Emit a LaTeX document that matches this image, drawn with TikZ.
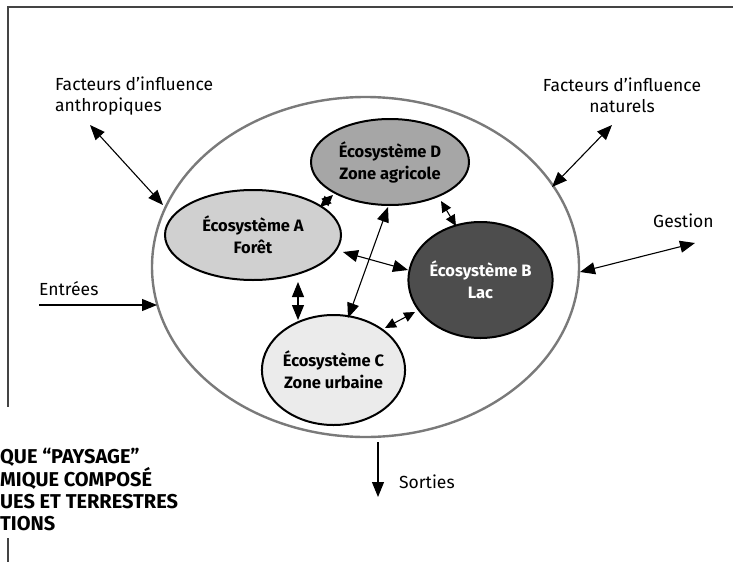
\documentclass[tikz,border=0pt]{standalone}
\usepackage{fontspec}
\setmainfont{Fira Sans}
\usetikzlibrary{arrows.meta,shapes.geometric}
\definecolor{bigring}{HTML}{7A7A7A}
\definecolor{fillD}{HTML}{A6A6A6}
\definecolor{fillA}{HTML}{D0D0D0}
\definecolor{fillB}{HTML}{4D4D4D}
\definecolor{fillC}{HTML}{EBEBEB}
\definecolor{framecol}{HTML}{444444}
\begin{document}
\begin{tikzpicture}[x=1pt,y=-1pt,
  eco/.style={ellipse,draw=black,line width=2pt,inner sep=0pt,align=center,
    font=\fontsize{16.5}{22}\selectfont\bfseries},
  lbl/.style={font=\fontsize{17.5}{21}\selectfont,inner sep=0pt},
  ttl/.style={font=\fontsize{20}{22}\selectfont\bfseries,inner sep=0pt,anchor=base west},
  dbl/.style={{Triangle[length=15pt,width=12pt]}-{Triangle[length=15pt,width=12pt]},line width=1.1pt},
  dbls/.style={{Triangle[length=11pt,width=10pt]}-{Triangle[length=11pt,width=10pt]},line width=1.1pt},
  one/.style={-{Triangle[length=15pt,width=12pt]},line width=1.1pt},
  framel/.style={draw=framecol,line width=2pt}]
\useasboundingbox (0,0) rectangle (733,562);
% frame
\draw[framel] (7,7) -- (733,7);
\draw[framel] (8,7) -- (8,407);
\draw[framel] (8,538) -- (8,562);
% big ellipse
\node[ellipse,draw=bigring,line width=2.4pt,minimum width=427pt,minimum height=340pt,inner sep=0pt] (W) at (365.5,267) {};
% ecosystems
\node[eco,fill=fillD,minimum width=158pt,minimum height=86pt] (D) at (390,162) {Écosystème D\\Zone agricole};
\node[eco,fill=fillA,minimum width=176pt,minimum height=90pt] (A) at (253,235) {Écosystème A\\Forêt};
\node[eco,fill=fillB,text=white,minimum width=143pt,minimum height=116pt] (B) at (480.5,280) {Écosystème B\\Lac};
\node[eco,fill=fillC,minimum width=127pt,minimum height=110pt] (C) at (333.5,370) {Écosystème C\\Zone urbaine};
% labels
\node[lbl,anchor=base west] (fa1) at (55,90) {Facteurs d’influence};
\node[lbl,anchor=base west] (fa2) at (55,111) {anthropiques};
\node[lbl,anchor=base] (fn1) at (622,91) {Facteurs d’influence};
\node[lbl,anchor=base] (fn2) at (622,112) {naturels};
\node[lbl,anchor=base west] (ge) at (653,227) {Gestion};
\node[lbl,anchor=base west] (en) at (39,295) {Entrées};
\node[lbl,anchor=base west] (so) at (399,488) {Sorties};
% title (cut at the left edge)
\node[ttl] (t1) at (0,463) {QUE “PAYSAGE”};
\node[ttl] (t2) at (0,486) {MIQUE COMPOSÉ};
\node[ttl] (t3) at (0,508) {UES ET TERRESTRES};
\node[ttl] (t4) at (0,530) {TIONS};
% arrow end points
\coordinate (anA) at (90,125);  \coordinate (anW) at (163,205);
\coordinate (naN) at (612,125); \coordinate (naW) at (552,187);
\coordinate (geW) at (580,272); \coordinate (geG) at (695,243);
\coordinate (enS) at (39,305);  \coordinate (enW) at (157,305);
\coordinate (soW) at (378,442); \coordinate (soS) at (378,497);
\coordinate (adA) at (320,207); \coordinate (adD) at (333,195);
\coordinate (dbD) at (441,201); \coordinate (dbB) at (456,226);
\coordinate (abA) at (343,252); \coordinate (abB) at (408,270);
\coordinate (dcD) at (388,207); \coordinate (dcC) at (348,318);
\coordinate (acA) at (298,282); \coordinate (acC) at (298,320);
\coordinate (cbC) at (385,328); \coordinate (cbB) at (415,312);
% arrows
\draw[dbl] (anA) -- (anW);
\draw[dbl] (naN) -- (naW);
\draw[dbl] (geW) -- (geG);
\draw[one] (enS) -- (enW);
\draw[one] (soW) -- (soS);
\draw[dbls] (adA) -- (adD);
\draw[dbls] (dbD) -- (dbB);
\draw[dbl] (abA) -- (abB);
\draw[dbl] (dcD) -- (dcC);
\draw[dbl] (acA) -- (acC);
\draw[dbls] (cbC) -- (cbB);
\end{tikzpicture}
\end{document}
